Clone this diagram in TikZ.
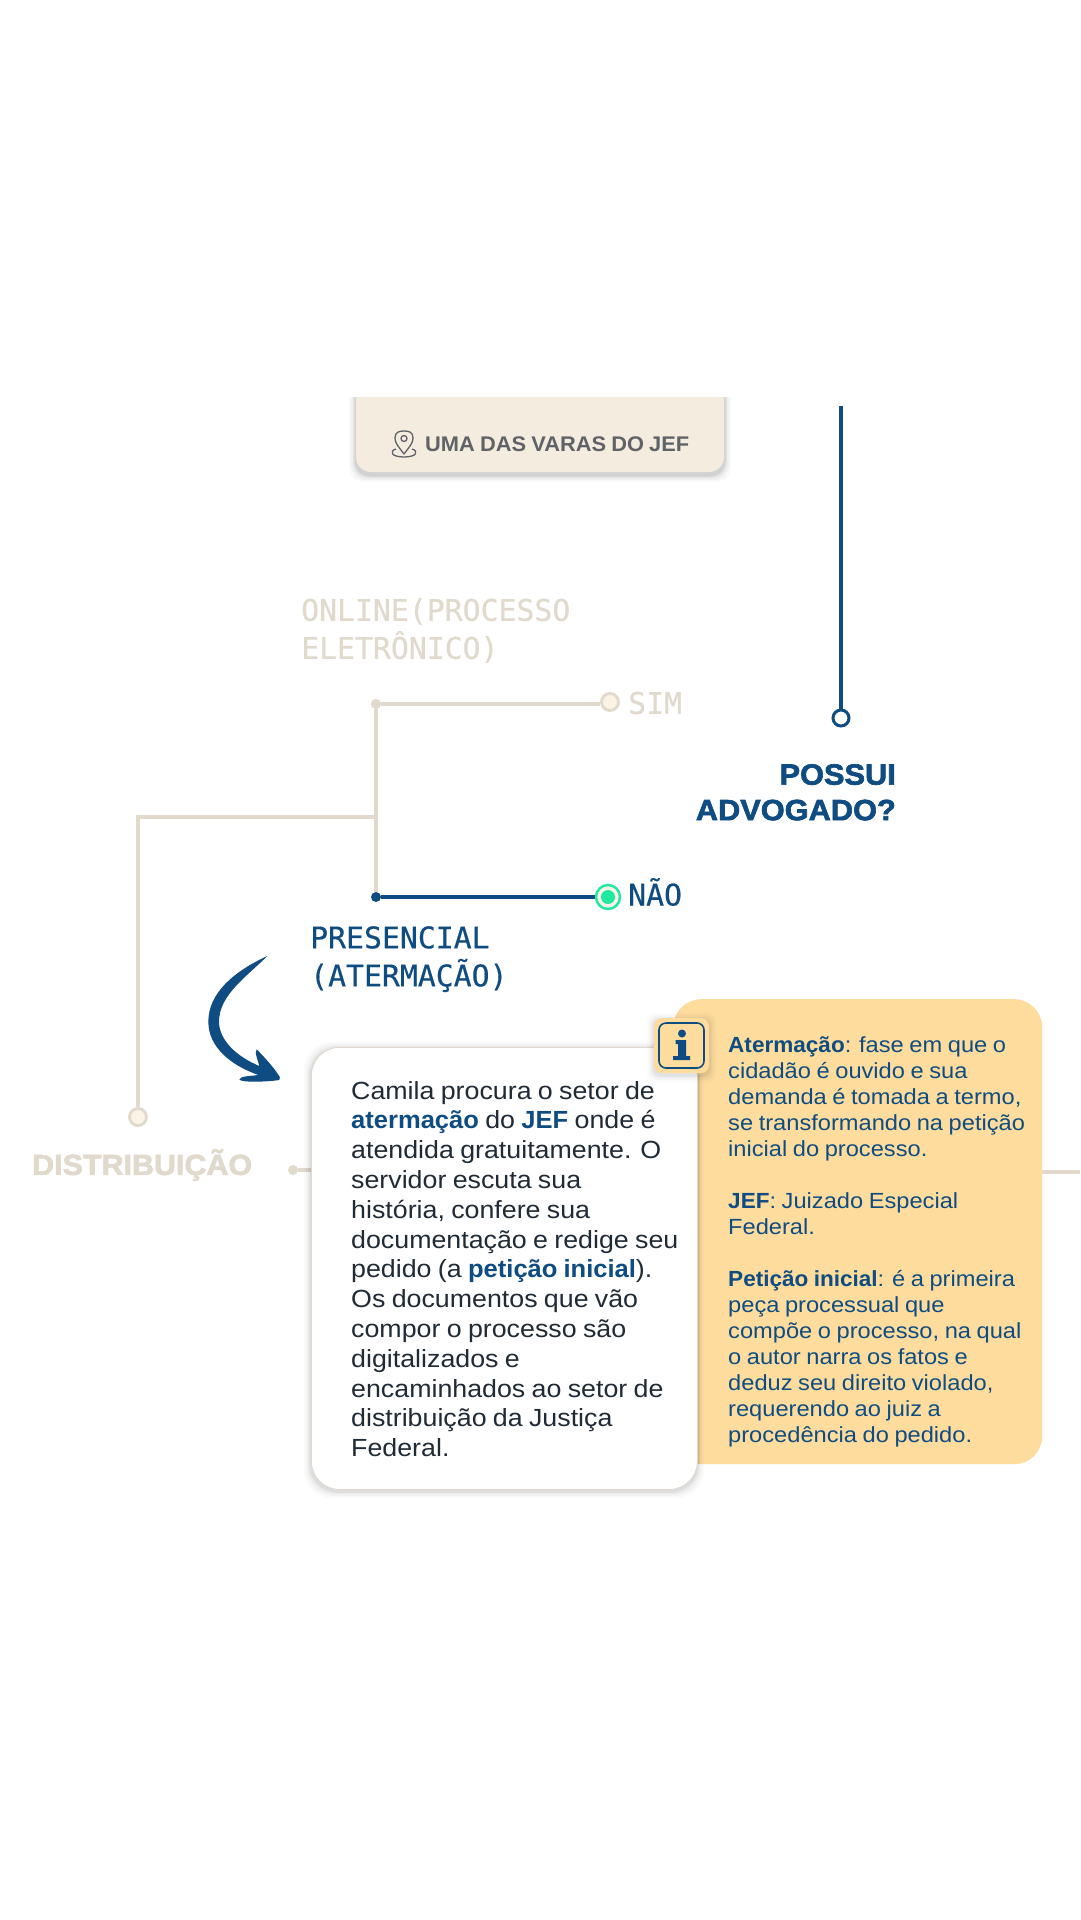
\documentclass[tikz,border=0pt]{standalone}
\usepackage{fontspec}
\setmainfont{Liberation Sans}[FakeStretch=1.08,WordSpace=0.85,BoldFeatures={FakeStretch=1.03}]
\newfontface\heavy{Liberation Sans Bold}[FakeBold=2.2,FakeStretch=1.05]
\newfontfamily\plex{DejaVu Sans Mono}[FakeBold=0.4]
\definecolor{tan}{HTML}{E0D9CC}
\definecolor{cream}{HTML}{F4ECDF}
\definecolor{ringfill}{HTML}{FBF3E6}
\definecolor{navy}{HTML}{0F4C81}
\definecolor{mint}{HTML}{1DE9A0}
\definecolor{honey}{HTML}{FDDC9E}
\definecolor{ink}{HTML}{212B36}
\definecolor{slate}{HTML}{5F6368}
\tikzset{
  x=1pt,y=-1pt,
  line/.style={draw=tan,line width=3.2pt},
  bluel/.style={draw=navy,line width=3.2pt},
  dotn/.style={circle,inner sep=0pt,minimum size=10pt,fill=#1},
  ringn/.style={circle,inner sep=0pt,minimum size=17pt,fill=ringfill,draw=tan,line width=2.8pt},
  lab/.style={inner sep=0pt,anchor=west},
  monot/.style={inner sep=0pt,anchor=north west,align=left,font=\plex\fontsize{29.8}{38}\selectfont},
}
\newcommand{\softshadow}[7]{% x1 y1 x2 y2 radius offset strength
  \foreach \s/\o in {7/.012,5/.018,3/.025,1.5/.035}{
    \fill[black,opacity=#7*\o,rounded corners=#5] (#1-\s,#2-\s+#6) rectangle (#3+\s,#4+\s+#6);
  }}
\begin{document}
\begin{tikzpicture}
\useasboundingbox (0,0) rectangle (1080,1920);
\fill[white] (0,0) rectangle (1080,1920);
% top card
\begin{scope}
\clip (330,397) rectangle (750,500);
\softshadow{356}{380}{724}{472}{15}{3}{2}
\fill[cream,rounded corners=15] (356,370) rectangle (724,472);
\end{scope}
\node[lab,text=slate,font=\bfseries\fontsize{21.2}{26}\selectfont] (vara) at (425,444.5) {UMA DAS VARAS DO JEF};
\begin{scope}[draw=slate,line width=1.3pt,line join=round]
\draw (396,449) .. controls (389,451) and (391,457) .. (404,457) .. controls (417,457) and (419,451) .. (412,449);
\draw (404,454) .. controls (398,446) and (395,443) .. (395,438) .. controls (395,432) and (399,431) .. (404,431) .. controls (409,431) and (413,432) .. (413,438) .. controls (413,443) and (410,446) .. (404,454) -- cycle;
\draw (404,438.5) circle (3);
\end{scope}
% right vertical
\coordinate (vtop) at (841,406);
\node[circle,inner sep=0pt,minimum size=16pt,draw=navy,line width=3pt,fill=white] (vend) at (841,718) {};
\draw[bluel] (vtop) -- (vend);
\node[inner sep=0pt,anchor=north east,align=right,text=navy,font=\heavy\fontsize{29.3}{35.5}\selectfont] (pa) at (896,764) {POSSUI\\ADVOGADO?};
% tree
\node[monot,text=tan] (online) at (301,598) {ONLINE(PROCESSO\\ELETRÔNICO)};
\node[dotn=tan] (dsim) at (376,704) {};
\node[ringn] (rsim) at (610,702) {};
\node[lab,text=tan,font=\plex\fontsize{29.8}{34}\selectfont] (sim) at (628,703) {SIM};
\node[dotn=navy] (dnao) at (376,897) {};
\node[circle,inner sep=0pt,minimum size=24pt,fill=ringfill,draw=mint,line width=2.4pt] (rnao) at (608,897) {};
\fill[mint] (rnao) circle (7);
\node[lab,text=navy,font=\plex\fontsize{29.8}{34}\selectfont] (nao) at (628,892) {NÃO};
\coordinate (junc) at (376,817);
\node[ringn] (rdist) at (138,1117) {};
\draw[line] (dsim) -- (dsim -| rsim.west);
\draw[line] (dsim) -- (dnao);
\draw[line] (junc) -| (rdist);
\draw[bluel] (dnao) -- (rnao);
\node[monot,text=navy] (pres) at (310,926) {PRESENCIAL\\(ATERMAÇÃO)};
% distribution
\node[lab,text=tan,font=\heavy\fontsize{29}{34}\selectfont] (dist) at (32,1165) {DISTRIBUIÇÃO};
\node[dotn=tan] (ddist) at (293,1170) {};
\coordinate (cleft) at (330,1170);
\draw[line] (ddist) -- (cleft);
% yellow card
\coordinate (rend) at (1080,1172);
\coordinate (yr) at (1030,1172);
\draw[line] (yr) -- (rend);
\node[inner sep=0pt,rounded corners=28,fill=honey,minimum width=369pt,minimum height=465pt,anchor=north west] (ycard) at (673,999) {};
\fill[honey!94!black] (695,1075) rectangle (700,1464);
% white card
\softshadow{311}{1047}{697}{1489}{28}{2}{1.5}
\node[inner sep=0pt,rounded corners=28,fill=white,draw=tan,line width=.8pt,minimum width=386pt,minimum height=442pt,anchor=north west] (wcard) at (311,1047) {};
\node[inner sep=0pt,anchor=north west,align=left,text=ink,font=\fontsize{24.8}{29.8}\selectfont] (wtext) at (351,1081) {Camila procura o setor de\\
\textcolor{navy}{\textbf{atermação}} do \textcolor{navy}{\textbf{JEF}} onde é\\
atendida gratuitamente. O\\
servidor escuta sua\\
história, confere sua\\
documentação e redige seu\\
pedido (a \textcolor{navy}{\textbf{petição inicial}}).\\
Os documentos que vão\\
compor o processo são\\
digitalizados e\\
encaminhados ao setor de\\
distribuição da Justiça\\
Federal.};
% yellow text
\node[inner sep=0pt,anchor=north west,align=left,text=navy,font=\fontsize{21.9}{26}\selectfont] (ytext) at (728,1036) {\textbf{Atermação}: fase em que o\\
cidadão é ouvido e sua\\
demanda é tomada a termo,\\
se transformando na petição\\
inicial do processo.\\[26pt]
\textbf{JEF}: Juizado Especial\\
Federal.\\[26pt]
\textbf{Petição inicial}: é a primeira\\
peça processual que\\
compõe o processo, na qual\\
o autor narra os fatos e\\
deduz seu direito violado,\\
requerendo ao juiz a\\
procedência do pedido.};
% info icon
\softshadow{654}{1018}{709}{1073}{8}{2}{1.2}
\node[inner sep=0pt,fill=honey,rounded corners=8,minimum size=55pt] (ibox) at (681.5,1045.5) {};
\node[inner sep=0pt,draw=navy,line width=1.6pt,rounded corners=7,minimum size=45pt] (iin) at (ibox) {};
\fill[navy] (682,1033.5) circle (4);
\fill[navy] (675.5,1040) -- (686,1040) -- (686,1056) -- (690,1056) -- (690,1060) -- (673,1060) -- (673,1056) -- (678,1056) -- (678,1044) -- (675.5,1044) -- cycle;
% hand arrow
\begin{scope}[shift={(190,950)},x=.333333pt,y=-.333333pt]
\fill[navy] (232,18) .. controls (130,65) and (55,130) .. (55,215)
 .. controls (55,290) and (120,345) .. (205,375)
 .. controls (185,378) and (150,378) .. (148,388)
 .. controls (150,398) and (230,396) .. (268,390)
 .. controls (272,385) and (270,380) .. (262,370)
 .. controls (245,345) and (220,318) .. (200,298)
 .. controls (192,305) and (205,335) .. (208,348)
 .. controls (140,320) and (87,270) .. (87,215)
 .. controls (87,135) and (170,80) .. (232,18) -- cycle;
\end{scope}
\end{tikzpicture}
\end{document}
